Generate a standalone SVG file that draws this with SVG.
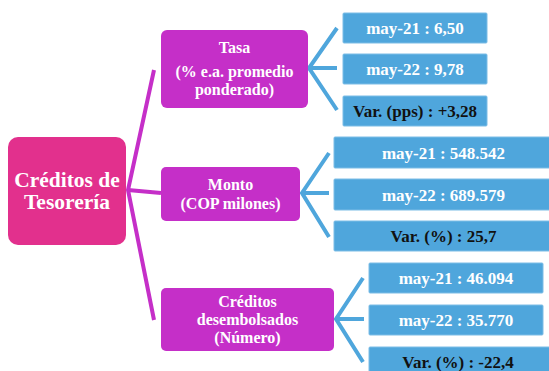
<svg xmlns="http://www.w3.org/2000/svg" width="549" height="371" viewBox="0 0 549 371">
<style>
  .root { fill: #E2308D; }
  .node { fill: #C52FC8; }
  .box { fill: #4FA6DC; stroke: #7DBDE6; stroke-width: 1; }
  .t { font-family: "Liberation Serif", "DejaVu Serif", serif; font-weight: bold; text-anchor: middle; }
  .w { fill: #FFFFFF; }
  .k { fill: #111111; }
  .cm { fill: none; stroke: #C52FC8; stroke-width: 4; stroke-linejoin: miter; }
  .cb { fill: none; stroke: #4FA6DC; stroke-width: 4; stroke-linejoin: miter; }
</style>
<rect width="549" height="371" fill="#FFFFFF"/>
<g id="connectors">
  <path class="cm" d="M154,70 L128,190 L154,320 M128,190 L161,193"/>
  <path class="cb" d="M337,28 L309,68 L337,110 M309,68 L337,68"/>
  <path class="cb" d="M329,153 L302,193 L329,237 M302,193 L329,193"/>
  <path class="cb" d="M363,278 L336,319 L363,362 M336,319 L364,319"/>
</g>
<g id="root">
  <rect class="root" x="8" y="137" width="118" height="108" rx="10"/>
  <text class="t w" x="67" y="187" font-size="21.5">Créditos de</text>
  <text class="t w" x="67" y="209" font-size="21.5">Tesorería</text>
</g>
<g id="tasa">
  <rect class="node" x="161" y="30" width="147" height="78" rx="6"/>
  <text class="t w" x="234.5" y="53" font-size="16">Tasa</text>
  <text class="t w" x="234.5" y="77" font-size="16">(% e.a. promedio</text>
  <text class="t w" x="234.5" y="95" font-size="16">ponderado)</text>
</g>
<g id="monto">
  <rect class="node" x="161" y="167" width="139" height="54" rx="5"/>
  <text class="t w" x="230.5" y="190" font-size="16">Monto</text>
  <text class="t w" x="230.5" y="209" font-size="16">(COP milones)</text>
</g>
<g id="creditos">
  <rect class="node" x="161" y="288" width="173" height="63" rx="5"/>
  <text class="t w" x="247.5" y="307" font-size="16">Créditos</text>
  <text class="t w" x="247.5" y="325" font-size="16">desembolsados</text>
  <text class="t w" x="247.5" y="343" font-size="16">(Número)</text>
</g>
<g id="tasa-may21">
  <rect class="box" x="343" y="13" width="144" height="30" rx="1"/>
  <text class="t w" x="415" y="34" font-size="17">may-21 : 6,50</text>
</g>
<g id="tasa-may22">
  <rect class="box" x="343" y="54" width="144" height="30" rx="1"/>
  <text class="t w" x="415" y="75" font-size="17">may-22 : 9,78</text>
</g>
<g id="tasa-var">
  <rect class="box" x="343" y="96" width="144" height="30" rx="1"/>
  <text class="t k" x="415" y="117" font-size="17">Var. (pps) : +3,28</text>
</g>
<g id="monto-may21">
  <rect class="box" x="334" y="137" width="220" height="31" rx="1"/>
  <text class="t w" x="443.5" y="158.5" font-size="17">may-21 : 548.542</text>
</g>
<g id="monto-may22">
  <rect class="box" x="334" y="179" width="220" height="31" rx="1"/>
  <text class="t w" x="443.5" y="200.5" font-size="17">may-22 : 689.579</text>
</g>
<g id="monto-var">
  <rect class="box" x="334" y="221" width="220" height="30" rx="1"/>
  <text class="t k" x="443.5" y="242" font-size="17">Var. (%) : 25,7</text>
</g>
<g id="cred-may21">
  <rect class="box" x="369" y="263" width="174" height="30" rx="1"/>
  <text class="t w" x="456" y="284" font-size="17">may-21 : 46.094</text>
</g>
<g id="cred-may22">
  <rect class="box" x="369" y="305" width="174" height="30" rx="1"/>
  <text class="t w" x="456" y="326" font-size="17">may-22 : 35.770</text>
</g>
<g id="cred-var">
  <rect class="box" x="369" y="347" width="186" height="30" rx="1"/>
  <text class="t k" x="458" y="368" font-size="17">Var. (%) : -22,4</text>
</g>
</svg>
